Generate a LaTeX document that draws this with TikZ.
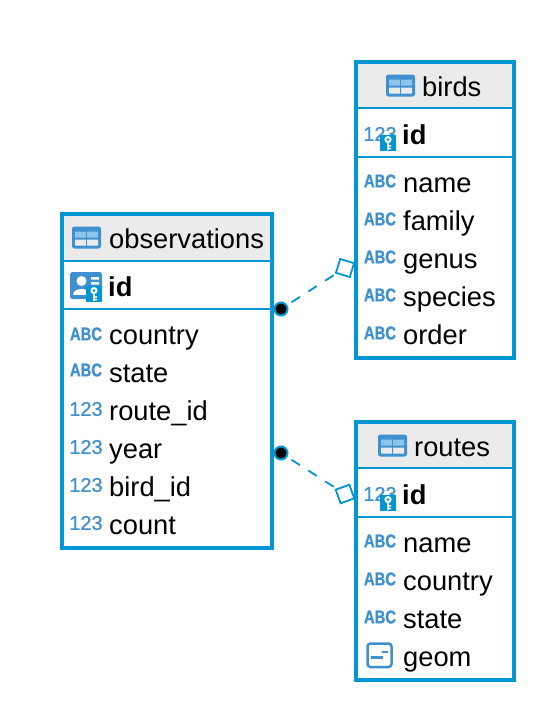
\documentclass[tikz,border=0pt]{standalone}
\usepackage{fontspec}
\setmainfont{Liberation Sans}
\definecolor{frame}{HTML}{0095D3}
\definecolor{icon}{HTML}{3F90D0}
\definecolor{iconlight}{HTML}{8CC4EA}
\definecolor{head}{HTML}{EBEBEB}
\newcommand{\abctext}{\scalebox{.80}[1]{ABC}}
\tikzset{
  x=1pt,y=-1pt,
  tablebox/.style={draw=frame,line width=4pt,fill=white,inner sep=0pt,outer sep=0pt},
  headfill/.style={fill=head},
  sepline/.style={draw=frame,line width=2pt},
  titlelabel/.style={anchor=base west,inner sep=0pt,font=\fontsize{27.3}{30}\selectfont},
  fieldlabel/.style={anchor=base west,inner sep=0pt,font=\fontsize{27.3}{30}\selectfont},
  keylabel/.style={anchor=base west,inner sep=0pt,font=\fontsize{27.3}{30}\selectfont\bfseries},
  abclabel/.style={anchor=center,inner sep=0pt,text=icon,font=\fontsize{18.5}{20}\selectfont\bfseries\addfontfeature{FakeBold=1.2}},
  numlabel/.style={anchor=center,inner sep=0pt,text=icon,font=\fontsize{20}{22}\selectfont\addfontfeature{FakeBold=0.8}},
  dotmark/.style={circle,draw=frame,fill=black,line width=2pt,minimum size=13pt,inner sep=0pt,outer sep=1pt},
  squaremark/.style={rectangle,draw=frame,fill=white,line width=1.8pt,minimum size=14.5pt,inner sep=0pt,outer sep=1pt},
  relation/.style={draw=frame,line width=1.8pt,dash pattern=on 10pt off 10pt,dash phase=15pt},
  pics/tableicon/.style={code={
    \fill[icon,rounded corners=2.5pt] (0,0) rectangle (29,22);
    \fill[iconlight] (3,5) rectangle (13.8,11) (15.2,5) rectangle (26,11);
    \fill[head] (3,13) rectangle (13.8,19) (15.2,13) rectangle (26,19);
  }},
  pics/keybadge/.style={code={
    \fill[frame] (0,0) rectangle (16,16);
    \fill[white] (8,4.6) circle (3.6);
    \fill[frame] (8,4.6) circle (1.4);
    \fill[white] (7,7.5) rectangle (9,15);
    \fill[white] (9,10) rectangle (11,11.5) (9,12.8) rectangle (11,14.3);
  }},
  pics/personicon/.style={code={
    \fill[icon,rounded corners=2.5pt] (0,0) rectangle (32,27);
    \fill[white] (11.5,9) circle (5);
    \fill[white] (3,23) .. controls (3,14.5) and (20,14.5) .. (20,23) -- cycle;
    \fill[white] (21,5) rectangle (29,7.5) (21,10) rectangle (29,12.5);
  }},
  pics/geomicon/.style={code={
    \draw[icon,line width=2.5pt,rounded corners=3pt] (1.5,1.5) rectangle (25.5,25);
    \draw[icon,line width=2.2pt] (15.5,10) -- (22,10);
    \draw[icon,line width=2.2pt] (5,15.5) -- (17,15.5);
  }},
}
\begin{document}
\begin{tikzpicture}
\useasboundingbox (0,0) rectangle (536,702);
\fill[white] (0,0) rectangle (536,702);

% observations
\node[tablebox,minimum width=210pt,minimum height=334pt] (obs) at (167,381) {};
\fill[headfill] (64,216) rectangle (270,260);
\draw[sepline] (64,261) -- (270,261);
\draw[sepline] (64,309) -- (270,309);
\pic at (72,226.5) {tableicon};
\node[titlelabel] (obstitle) at (109,248) {observations};
\pic at (70,272) {personicon};
\pic at (86,286) {keybadge};
\node[keylabel] (obsid) at (108,296) {id};
\node[abclabel] (i1) at (86,334) {\abctext};
\node[fieldlabel] (f1) at (109,344) {country};
\node[abclabel] (i2) at (86,370) {\abctext};
\node[fieldlabel] (f2) at (109,382) {state};
\node[numlabel] (i3) at (86,409) {123};
\node[fieldlabel] (f3) at (109,420) {route\_id};
\node[numlabel] (i4) at (86,447) {123};
\node[fieldlabel] (f4) at (109,458) {year};
\node[numlabel] (i5) at (86,485) {123};
\node[fieldlabel] (f5) at (109,496) {bird\_id};
\node[numlabel] (i6) at (86,523) {123};
\node[fieldlabel] (f6) at (109,534) {count};

% birds
\node[tablebox,minimum width=158pt,minimum height=296pt] (birds) at (435,210) {};
\fill[headfill] (358,64) rectangle (512,107);
\draw[sepline] (358,108) -- (512,108);
\draw[sepline] (358,157) -- (512,157);
\pic at (386,74.5) {tableicon};
\node[titlelabel] (birdstitle) at (422,96) {birds};
\node[numlabel] (bi0) at (380,134) {123};
\pic at (380,135) {keybadge};
\node[keylabel] (birdsid) at (402,144) {id};
\node[abclabel] (bi1) at (380,181) {\abctext};
\node[fieldlabel] (bf1) at (403,192) {name};
\node[abclabel] (bi2) at (380,219) {\abctext};
\node[fieldlabel] (bf2) at (403,230) {family};
\node[abclabel] (bi3) at (380,257) {\abctext};
\node[fieldlabel] (bf3) at (403,268) {genus};
\node[abclabel] (bi4) at (380,295) {\abctext};
\node[fieldlabel] (bf4) at (403,306) {species};
\node[abclabel] (bi5) at (380,333) {\abctext};
\node[fieldlabel] (bf5) at (403,344) {order};

% routes
\node[tablebox,minimum width=158pt,minimum height=258pt] (routes) at (435,551) {};
\fill[headfill] (358,424) rectangle (512,467);
\draw[sepline] (358,468) -- (512,468);
\draw[sepline] (358,517) -- (512,517);
\pic at (378,434.5) {tableicon};
\node[titlelabel] (routestitle) at (414,456) {routes};
\node[numlabel] (ri0) at (380,494) {123};
\pic at (380,495) {keybadge};
\node[keylabel] (routesid) at (402,504) {id};
\node[abclabel] (ri1) at (380,541) {\abctext};
\node[fieldlabel] (rf1) at (403,552) {name};
\node[abclabel] (ri2) at (380,579) {\abctext};
\node[fieldlabel] (rf2) at (403,590) {country};
\node[abclabel] (ri3) at (380,617) {\abctext};
\node[fieldlabel] (rf3) at (403,628) {state};
\pic at (366,642) {geomicon};
\node[fieldlabel] (rf4) at (403,666) {geom};

% connectors
\node[dotmark] (dota) at (281,309) {};
\node[dotmark] (dotb) at (281,453) {};
\node[squaremark,rotate=-17] (sqa) at (345,268) {};
\node[squaremark,rotate=20] (sqb) at (345,494) {};
\draw[relation] (dota) -- (sqa);
\draw[relation] (dotb) -- (sqb);
\end{tikzpicture}
\end{document}
